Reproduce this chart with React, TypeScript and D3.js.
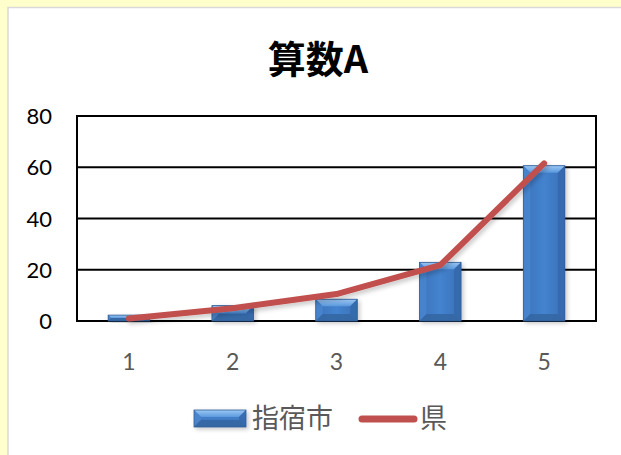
import React from "react";
import * as d3 from "d3";

const categories = ["1", "2", "3", "4", "5"];
const cityValues = [2.3, 6.0, 8.5, 22.9, 60.6];
const prefValues = [1.0, 5.0, 10.5, 21.8, 61.5];
const yTicks = [0, 20, 40, 60, 80];
const titleText = "算数A";
const cityName = "指宿市";
const prefName = "県";

const W = 621;
const H = 455;
const plot = { left: 77, top: 116, right: 596, bottom: 321 };

const numFont = "Lato, 'Open Sans', sans-serif";
const cjkFont = "'Noto Sans CJK JP', 'Noto Sans', sans-serif";

function BevelBar({ x, y, w, h, id }: { x: number; y: number; w: number; h: number; id: string }) {
  const b = Math.min(7, h / 2, w / 2);
  return (
    <g filter="url(#barShadow)">
      <rect x={x} y={y} width={w} height={h} fill={`url(#${id})`} />
      {/* top bevel */}
      <polygon points={`${x},${y} ${x + w},${y} ${x + w - b},${y + b} ${x + b},${y + b}`} fill="url(#topBevel)" />
      {/* left bevel */}
      <polygon points={`${x},${y} ${x + b},${y + b} ${x + b},${y + h - b} ${x},${y + h}`} fill="#4a86cf" opacity={0.8} />
      {/* right bevel */}
      <polygon points={`${x + w},${y} ${x + w},${y + h} ${x + w - b},${y + h - b} ${x + w - b},${y + b}`} fill="#3468aa" opacity={0.8} />
      {/* bottom bevel */}
      <polygon points={`${x},${y + h} ${x + b},${y + h - b} ${x + w - b},${y + h - b} ${x + w},${y + h}`} fill="#33649f" opacity={0.8} />
      <rect x={x} y={y} width={w} height={h} fill="none" stroke="#2f5d96" strokeWidth={0.8} />
    </g>
  );
}

export default function App() {
  const x = d3.scaleBand<string>().domain(categories).range([plot.left, plot.right]).paddingInner(0.6).paddingOuter(0.3);
  const band = d3.scaleBand<string>().domain(categories).range([plot.left, plot.right]);
  const y = d3.scaleLinear().domain([0, 80]).range([plot.bottom, plot.top]);

  const line = d3
    .line<number>()
    .x((_, i) => (band(categories[i]) as number) + band.bandwidth() / 2)
    .y((d) => y(d));

  const bw = x.bandwidth();

  return (
    <svg width={W} height={H} style={{ position: "absolute", left: 0, top: 0 }}>
      <defs>
        <linearGradient id="barBody" x1="0" x2="1" y1="0" y2="0">
          <stop offset="0" stopColor="#3b73bb" />
          <stop offset="0.5" stopColor="#4483cf" />
          <stop offset="1" stopColor="#3a70b6" />
        </linearGradient>
        <linearGradient id="legendBody" x1="0" x2="0" y1="0" y2="1">
          <stop offset="0" stopColor="#4a8ad6" />
          <stop offset="1" stopColor="#3a70b6" />
        </linearGradient>
        <linearGradient id="topBevel" x1="0" x2="0" y1="0" y2="1">
          <stop offset="0" stopColor="#9cc8f4" />
          <stop offset="1" stopColor="#5a98de" />
        </linearGradient>
        <filter id="barShadow" x="-20%" y="-20%" width="150%" height="150%">
          <feDropShadow dx="2" dy="2" stdDeviation="2" floodColor="#000" floodOpacity="0.22" />
        </filter>
        <filter id="lineShadow" x="-10%" y="-10%" width="120%" height="130%">
          <feDropShadow dx="2" dy="3" stdDeviation="2" floodColor="#000" floodOpacity="0.2" />
        </filter>
      </defs>

      <rect x={0} y={0} width={W} height={H} fill="#ffffcc" />
      <rect x={8} y={7.5} width={W} height={H} fill="#ffffff" stroke="#d9d9d9" strokeWidth={1.5} />

      <text x={318} y={73} textAnchor="middle" fontFamily={cjkFont} fontWeight={700} fontSize={38} fill="#000">
        {titleText}
      </text>

      {/* gridlines */}
      {yTicks.map((t) => (
        <line key={t} x1={plot.left} x2={plot.right} y1={y(t)} y2={y(t)} stroke="#000" strokeWidth={2} />
      ))}
      <rect
        x={plot.left}
        y={plot.top}
        width={plot.right - plot.left}
        height={plot.bottom - plot.top}
        fill="none"
        stroke="#000"
        strokeWidth={2}
      />

      {yTicks.map((t) => (
        <text key={t} x={52} y={y(t) + 8} textAnchor="end" fontFamily={numFont} fontSize={22} fill="#000">
          {t}
        </text>
      ))}

      {categories.map((c, i) => (
        <BevelBar key={c} id="barBody" x={x(c) as number} y={y(cityValues[i])} w={bw} h={plot.bottom - y(cityValues[i])} />
      ))}

      <path
        d={line(prefValues) as string}
        fill="none"
        stroke="#c0504d"
        strokeWidth={6}
        strokeLinecap="round"
        strokeLinejoin="round"
        filter="url(#lineShadow)"
      />

      {categories.map((c) => (
        <text
          key={c}
          x={(band(c) as number) + band.bandwidth() / 2}
          y={370}
          textAnchor="middle"
          fontFamily={numFont}
          fontSize={23}
          fill="#595959"
        >
          {c}
        </text>
      ))}

      {/* legend */}
      <BevelBar id="legendBody" x={194} y={410} w={52} h={17} />
      <text x={252} y={428} fontFamily={cjkFont} fontSize={27} fill="#595959">
        {cityName}
      </text>
      <line x1={362} x2={414} y1={419} y2={419} stroke="#c0504d" strokeWidth={7} strokeLinecap="round" />
      <text x={420} y={428} fontFamily={cjkFont} fontSize={27} fill="#595959">
        {prefName}
      </text>
    </svg>
  );
}
